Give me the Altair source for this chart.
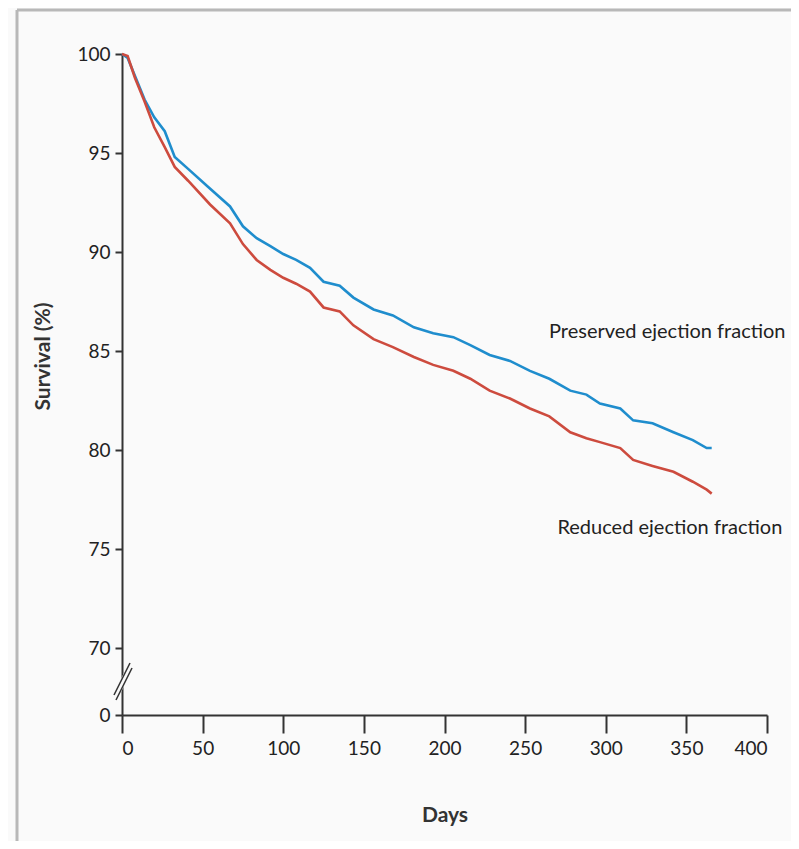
import altair as alt
import pandas as pd

# Preserved ejection fraction (blue)
days_pres = [0, 3.5, 8, 14, 20, 26.5, 32.7, 41, 53.3, 67, 75, 83.5, 92, 100, 108, 116.6, 125,
             135, 143.5, 156, 168, 181, 193, 205.5, 216, 228, 240.6, 253, 265, 278, 288,
             296.4, 309, 317, 329, 342, 354, 362.6, 365.7]
surv_pres = [100, 99.8, 98.9, 97.7, 96.8, 96.1, 94.8, 94.2, 93.3, 92.3, 91.3, 90.7, 90.3, 89.9,
             89.6, 89.2, 88.5, 88.3, 87.7, 87.1, 86.8, 86.2, 85.9, 85.7, 85.3, 84.8, 84.5, 84.0,
             83.6, 83.0, 82.8, 82.35, 82.1, 81.5, 81.35, 80.9, 80.5, 80.1, 80.1]

# Reduced ejection fraction (red)
days_red = [0, 3.5, 8, 14, 20, 26.5, 32.7, 41, 54.6, 67, 75, 83.5, 92, 100, 108, 116.6, 125,
            135, 143.5, 156, 168, 181, 193, 205.5, 216, 228, 240.6, 253, 265, 278, 288,
            296.4, 309, 317, 329, 342, 354, 362.6, 365.7]
surv_red = [100, 99.9, 98.8, 97.6, 96.3, 95.3, 94.3, 93.6, 92.4, 91.45, 90.4, 89.6, 89.1, 88.7,
            88.4, 88.0, 87.2, 87.0, 86.3, 85.6, 85.2, 84.7, 84.3, 84.0, 83.6, 83.0, 82.6, 82.1,
            81.7, 80.9, 80.6, 80.4, 80.1, 79.5, 79.2, 78.9, 78.4, 78.0, 77.8]

series_names = ["Preserved ejection fraction", "Reduced ejection fraction"]
series_colors = ["#1f8dcd", "#cd4b3e"]

# Annotation labels (right-aligned at these positions)
label_text = ["Preserved ejection fraction", "Reduced ejection fraction"]
label_day = [411.5, 409.5]
label_surv = [85.96, 76.06]

x_ticks = [0, 50, 100, 150, 200, 250, 300, 350, 400]
y_break = 66.62   # position where "0" is drawn below the axis break
y_ticks = [y_break, 70, 75, 80, 85, 90, 95, 100]

FONT = "Lato, sans-serif"

rows = []
for d, s in zip(days_pres, surv_pres):
    rows.append({"day": d, "surv": s, "group": series_names[0]})
for d, s in zip(days_red, surv_red):
    rows.append({"day": d, "surv": s, "group": series_names[1]})
df = pd.DataFrame(rows)

labels_df = pd.DataFrame({"text": label_text, "day": label_day, "surv": label_surv})
one = pd.DataFrame({"k": [0]})

W, H = 645, 661

x_scale = alt.Scale(domain=[0, 400], nice=False, zero=False)
y_scale = alt.Scale(domain=[y_break, 100], nice=False, zero=False)

lines = alt.Chart(df).mark_line(strokeWidth=2.6, interpolate="linear").encode(
    x=alt.X("day:Q", scale=x_scale,
            axis=alt.Axis(values=x_ticks, title="Days", grid=False, tickSize=18,
                          labelPadding=6, titleY=100, titleBaseline="middle",
                          domainColor="#333333", tickColor="#333333", domainWidth=2,
                          tickWidth=2)),
    y=alt.Y("surv:Q", scale=y_scale,
            axis=alt.Axis(values=y_ticks, title="Survival (%)", grid=False, tickSize=7,
                          labelPadding=5,
                          labelExpr="datum.value < 68 ? '0' : datum.label",
                          titleX=-79, titleY=302, titleAngle=270, titleAlign="center",
                          titleBaseline="middle",
                          domainColor="#333333", tickColor="#333333", domainWidth=2,
                          tickWidth=2)),
    color=alt.Color("group:N", scale=alt.Scale(domain=series_names, range=series_colors),
                    legend=None),
    detail="group:N",
)

texts = alt.Chart(labels_df).mark_text(align="right", baseline="middle", fontSize=20,
                                       font=FONT, color="#222222").encode(
    x=alt.X("day:Q", scale=x_scale),
    y=alt.Y("surv:Q", scale=y_scale),
    text="text:N",
)

# axis break: white gap and two slashes
gap = alt.Chart(one).mark_rule(color="#fafafa", strokeWidth=6).encode(
    x=alt.value(-7), x2=alt.value(9), y=alt.value(643), y2=alt.value(612))
slash1 = alt.Chart(one).mark_rule(color="#333333", strokeWidth=1.6).encode(
    x=alt.value(-8), x2=alt.value(8), y=alt.value(641), y2=alt.value(609))
slash2 = alt.Chart(one).mark_rule(color="#333333", strokeWidth=1.6).encode(
    x=alt.value(-6), x2=alt.value(10), y=alt.value(646), y2=alt.value(614))

# frame (left and top border)
frame_left = alt.Chart(one).mark_rule(color="#b8b8b8", strokeWidth=3).encode(
    x=alt.value(-105), y=alt.value(-44), y2=alt.value(790))
frame_top = alt.Chart(one).mark_rule(color="#b8b8b8", strokeWidth=3).encode(
    x=alt.value(-105), x2=alt.value(680), y=alt.value(-44))

chart = alt.layer(frame_left, frame_top, lines, gap, slash1, slash2, texts).properties(
    width=W, height=H,
    background="#fafafa",
    autosize=alt.AutoSizeParams(type="none"),
    padding={"left": 114, "top": 46, "right": 24, "bottom": 126},
).configure_view(stroke=None).configure_axis(
    labelFont=FONT, labelFontSize=19, labelColor="#222222",
    titleFont=FONT, titleFontSize=21, titleFontWeight="bold",
    titleColor="#333333",
)

chart.save("out.html", embed_options={"renderer": "svg", "actions": False})
